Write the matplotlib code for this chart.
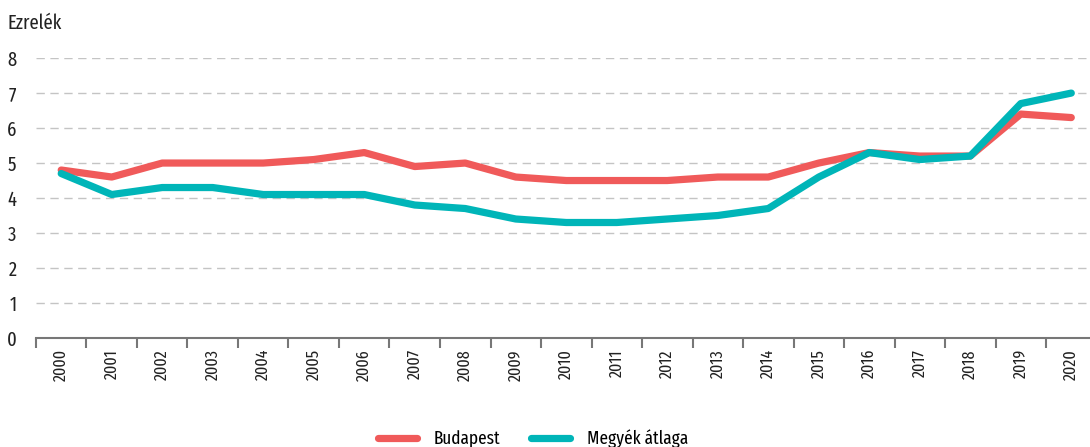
import matplotlib
matplotlib.use('Agg')
import matplotlib.pyplot as plt
import numpy as np

years = [str(y) for y in range(2000, 2021)]
budapest = [4.8, 4.6, 5.0, 5.0, 5.0, 5.1, 5.3, 4.9, 5.0, 4.6, 4.5,
            4.5, 4.5, 4.6, 4.6, 5.0, 5.3, 5.2, 5.2, 6.4, 6.3]
megyek = [4.7, 4.1, 4.3, 4.3, 4.1, 4.1, 4.1, 3.8, 3.7, 3.4, 3.3,
          3.3, 3.4, 3.5, 3.7, 4.6, 5.3, 5.1, 5.2, 6.7, 7.0]
yticks = [0, 1, 2, 3, 4, 5, 6, 7, 8]

plt.rcParams['font.family'] = ['Fira Sans Extra Condensed', 'Fira Sans Condensed',
                               'Asap Condensed', 'DejaVu Sans']

fig = plt.figure(figsize=(10.9, 4.47), dpi=100)
ax = fig.add_axes([0.033, 0.244, 0.973, 0.626])

x = np.arange(len(years))
ax.plot(x, budapest, color='#f05a5a', lw=5.2, solid_capstyle='round',
        solid_joinstyle='round', label='Budapest', zorder=3)
ax.plot(x, megyek, color='#00b5b8', lw=5.2, solid_capstyle='round',
        solid_joinstyle='round', label='Megyék átlaga', zorder=4)

ax.set_xlim(-0.5, len(years) - 0.5)
ax.set_ylim(0, 8)
ax.set_yticks(yticks)
ax.set_yticklabels([str(v) for v in yticks], fontsize=14.5, color='#222222')
ax.yaxis.grid(True, color='#c4c4c4', linestyle=(0, (6, 4)), lw=1)
ax.set_axisbelow(True)
ax.tick_params(axis='y', length=0, pad=14)

ax.set_xticks(x)
ax.set_xticklabels(years, rotation=90, fontsize=12.5, color='#222222')
ax.set_xticks(np.arange(-0.5, len(years), 1), minor=True)
ax.tick_params(axis='x', which='major', length=0, pad=8)
ax.tick_params(axis='x', which='minor', length=7, width=1.5, color='#777777')

for s in ['top', 'right', 'left']:
    ax.spines[s].set_visible(False)
ax.spines['bottom'].set_color('#777777')
ax.spines['bottom'].set_linewidth(1.5)

fig.text(0.007, 0.935, 'Ezrelék', fontsize=14.5, color='#222222')

fig.legend(loc='center', bbox_to_anchor=(0.489, 0.018), ncol=2,
           frameon=False, fontsize=13.5, handlelength=2.1, handletextpad=0.9,
           columnspacing=1.6)

fig.savefig('out.png', dpi=100)
